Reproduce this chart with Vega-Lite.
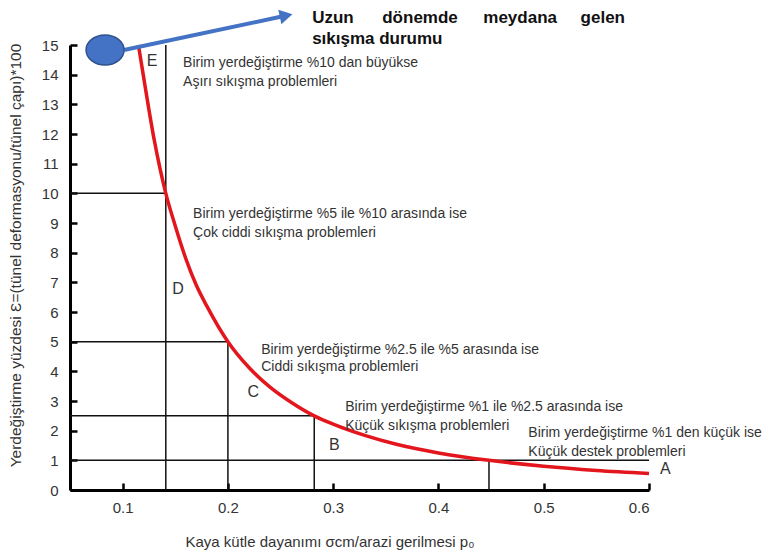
{
  "$schema": "https://vega.github.io/schema/vega-lite/v6.json",
  "width": 579,
  "height": 445,
  "autosize": "none",
  "padding": {"left": 70, "top": 45, "right": 116, "bottom": 66},
  "background": "white",
  "config": {
    "view": {"stroke": null},
    "font": "Liberation Sans",
    "text": {"font": "Liberation Sans"}
  },
  "datasets": {
    "curve": [
      {"x": 0.115, "y": 15.0}, {"x": 0.12, "y": 13.9}, {"x": 0.13, "y": 11.8},
      {"x": 0.141, "y": 10.0}, {"x": 0.15, "y": 8.9}, {"x": 0.16, "y": 7.8},
      {"x": 0.17, "y": 6.9}, {"x": 0.18, "y": 6.2}, {"x": 0.2, "y": 5.0},
      {"x": 0.22, "y": 4.13}, {"x": 0.24, "y": 3.47}, {"x": 0.26, "y": 2.96},
      {"x": 0.282, "y": 2.5}, {"x": 0.3, "y": 2.22}, {"x": 0.33, "y": 1.84},
      {"x": 0.36, "y": 1.54}, {"x": 0.4, "y": 1.25}, {"x": 0.448, "y": 1.0},
      {"x": 0.5, "y": 0.8}, {"x": 0.55, "y": 0.66}, {"x": 0.6, "y": 0.56}
    ],
    "lines": [
      {"x": 0.141, "y": 0, "x2": 0.141, "y2": 15},
      {"x": 0.2, "y": 0, "x2": 0.2, "y2": 5},
      {"x": 0.282, "y": 0, "x2": 0.282, "y2": 2.5},
      {"x": 0.448, "y": 0, "x2": 0.448, "y2": 1},
      {"x": 0.05, "y": 10, "x2": 0.141, "y2": 10},
      {"x": 0.05, "y": 5, "x2": 0.2, "y2": 5},
      {"x": 0.05, "y": 2.5, "x2": 0.282, "y2": 2.5},
      {"x": 0.05, "y": 1, "x2": 0.6, "y2": 1}
    ],
    "notes": [
      {"x": 0.1574, "y": 14.39, "label": "Birim yerdeğiştirme %10 dan büyükse"},
      {"x": 0.1574, "y": 13.75, "label": "Aşırı sıkışma problemleri"},
      {"x": 0.1669, "y": 9.30, "label": "Birim yerdeğiştirme %5 ile %10 arasında ise"},
      {"x": 0.1669, "y": 8.66, "label": "Çok ciddi sıkışma problemleri"},
      {"x": 0.2316, "y": 4.72, "label": "Birim yerdeğiştirme %2.5 ile %5 arasında ise"},
      {"x": 0.2316, "y": 4.15, "label": "Ciddi sıkışma problemleri"},
      {"x": 0.3114, "y": 2.80, "label": "Birim yerdeğiştirme %1  ile %2.5 arasında ise"},
      {"x": 0.3114, "y": 2.16, "label": "Küçük sıkışma problemleri"},
      {"x": 0.4854, "y": 1.92, "label": "Birim yerdeğiştirme %1 den küçük ise"},
      {"x": 0.4854, "y": 1.28, "label": "Küçük destek problemleri"}
    ],
    "letters": [
      {"x": 0.128, "y": 14.46, "label": "E"},
      {"x": 0.1527, "y": 6.78, "label": "D"},
      {"x": 0.224, "y": 3.30, "label": "C"},
      {"x": 0.301, "y": 1.52, "label": "B"},
      {"x": 0.6156, "y": 0.71, "label": "A"}
    ],
    "heading": [
      {"x": 0.2800, "y": 15.74, "label": "Uzun"},
      {"x": 0.3466, "y": 15.74, "label": "dönemde"},
      {"x": 0.4426, "y": 15.74, "label": "meydana"},
      {"x": 0.5350, "y": 15.74, "label": "gelen"},
      {"x": 0.2800, "y": 15.03, "label": "sıkışma durumu"}
    ],
    "arrow": [
      {"x": 0.1013, "y": 14.83, "x2": 0.2500, "y2": 15.95}
    ],
    "head": [
      {"x": 0.2553, "y": 15.99}
    ],
    "blob": [
      {"x": 0.0833, "y": 14.83}
    ]
  },
  "encoding": {
    "x": {
      "field": "x", "type": "quantitative",
      "scale": {"domain": [0.05, 0.6], "nice": false, "zero": false},
      "axis": {
        "values": [0.1, 0.2, 0.3, 0.4, 0.5, 0.6],
        "format": ".1f",
        "grid": false,
        "domainColor": "#000000", "domainWidth": 3,
        "tickColor": "#000000", "tickWidth": 2.5, "tickSize": -7,
        "labelFont": "Liberation Sans", "labelFontSize": 15, "labelColor": "#333333",
        "labelPadding": 17,
        "title": "Kaya kütle dayanımı σcm/arazi gerilmesi p₀",
        "titleFont": "Liberation Sans", "titleFontSize": 15, "titleFontWeight": "normal",
        "titleColor": "#333333",
        "titleAlign": "left", "titleAnchor": "start", "titleX": 115, "titleY": 51,
        "titleBaseline": "middle"
      }
    },
    "y": {
      "field": "y", "type": "quantitative",
      "scale": {"domain": [0, 15], "nice": false, "zero": true},
      "axis": {
        "values": [0, 1, 2, 3, 4, 5, 6, 7, 8, 9, 10, 11, 12, 13, 14, 15],
        "grid": false,
        "domainColor": "#000000", "domainWidth": 3,
        "tickColor": "#000000", "tickWidth": 2.5, "tickSize": -7,
        "labelFont": "Liberation Sans", "labelFontSize": 15, "labelColor": "#333333",
        "labelPadding": 19,
        "title": "Yerdeğiştirme yüzdesi Ɛ=(tünel deformasyonu/tünel çapı)*100",
        "titleFont": "Liberation Sans", "titleFontSize": 15.5, "titleFontWeight": "normal",
        "titleColor": "#333333",
        "titleX": -55, "titleY": 210, "titleBaseline": "middle", "titleAnchor": "middle"
      }
    }
  },
  "layer": [
    {
      "data": {"name": "lines"},
      "mark": {"type": "rule", "color": "#111111", "strokeWidth": 1.5},
      "encoding": {"x2": {"field": "x2"}, "y2": {"field": "y2"}}
    },
    {
      "data": {"name": "curve"},
      "mark": {"type": "line", "color": "#e3161e", "strokeWidth": 3.5, "interpolate": "monotone"},
      "encoding": {}
    },
    {
      "data": {"name": "notes"},
      "mark": {"type": "text", "align": "left", "baseline": "middle", "fontSize": 14, "color": "#333333"},
      "encoding": {"text": {"field": "label"}}
    },
    {
      "data": {"name": "letters"},
      "mark": {"type": "text", "align": "center", "baseline": "middle", "fontSize": 16, "color": "#333333"},
      "encoding": {"text": {"field": "label"}}
    },
    {
      "data": {"name": "heading"},
      "mark": {"type": "text", "align": "left", "baseline": "alphabetic", "fontSize": 17, "fontWeight": "bold", "color": "#111111"},
      "encoding": {"text": {"field": "label"}}
    },
    {
      "data": {"name": "arrow"},
      "mark": {"type": "rule", "color": "#4472c4", "strokeWidth": 4},
      "encoding": {"x2": {"field": "x2"}, "y2": {"field": "y2"}}
    },
    {
      "data": {"name": "head"},
      "mark": {"type": "point", "shape": "triangle-right", "filled": true, "color": "#4472c4", "opacity": 1, "size": 220, "angle": -12},
      "encoding": {}
    },
    {
      "data": {"name": "blob"},
      "mark": {"type": "point", "shape": "M -1 0 A 1 0.79 0 1 1 1 0 A 1 0.79 0 1 1 -1 0 Z", "filled": true, "fill": "#4472c4", "stroke": "#2f528f", "strokeWidth": 1.5, "opacity": 1, "size": 1444},
      "encoding": {}
    }
  ]
}
